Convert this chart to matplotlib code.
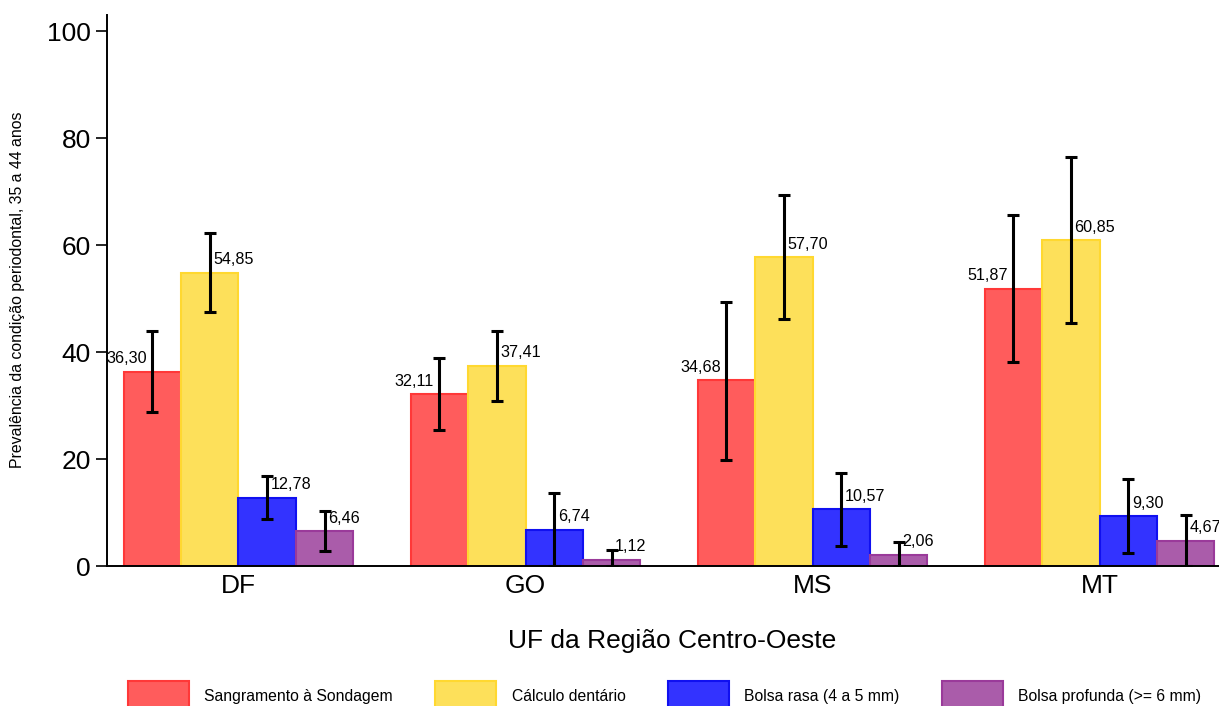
import matplotlib
matplotlib.use("Agg")
import matplotlib.pyplot as plt
import numpy as np
from matplotlib.patches import Patch

plt.rcParams['font.family'] = ['Liberation Sans', 'DejaVu Sans']

categories = ["DF", "GO", "MS", "MT"]
series_names = ["Sangramento à Sondagem", "Cálculo dentário",
                "Bolsa rasa (4 a 5 mm)", "Bolsa profunda (>= 6 mm)"]
sangramento = [36.30, 32.11, 34.68, 51.87]
calculo = [54.85, 37.41, 57.70, 60.85]
bolsa_rasa = [12.78, 6.74, 10.57, 9.30]
bolsa_profunda = [6.46, 1.12, 2.06, 4.67]
# confidence interval bounds (lower, upper)
sangramento_lo = [28.8, 25.5, 19.9, 38.1]
sangramento_hi = [43.9, 38.8, 49.4, 65.6]
calculo_lo = [47.4, 30.9, 46.1, 45.4]
calculo_hi = [62.3, 44.0, 69.3, 76.4]
bolsa_rasa_lo = [8.7, 0.0, 3.8, 2.4]
bolsa_rasa_hi = [16.9, 13.7, 17.4, 16.2]
bolsa_profunda_lo = [2.75, 0.0, 0.0, 0.0]
bolsa_profunda_hi = [10.3, 2.9, 4.4, 9.5]

values = [sangramento, calculo, bolsa_rasa, bolsa_profunda]
lows = [sangramento_lo, calculo_lo, bolsa_rasa_lo, bolsa_profunda_lo]
highs = [sangramento_hi, calculo_hi, bolsa_rasa_hi, bolsa_profunda_hi]
face_colors = ["#FF5C5C", "#FDE05A", "#3333FF", "#AA5CAA"]
edge_colors = ["#FF3838", "#FFD830", "#1010F0", "#9A3A9A"]

fig = plt.figure(figsize=(12.19, 7.06), dpi=100)
ax = fig.add_axes([107 / 1219, 1 - 566 / 706, 1 - 107 / 1219, (566 - 15) / 706])

x = np.arange(len(categories))
width = 0.2
for i, (vals, lo, hi) in enumerate(zip(values, lows, highs)):
    pos = x + (i - 1.5) * width
    ax.bar(pos, vals, width, color=face_colors[i], edgecolor=edge_colors[i],
           linewidth=1.5, label=series_names[i], zorder=2)
    vals_a = np.array(vals)
    yerr = np.vstack([vals_a - np.array(lo), np.array(hi) - vals_a])
    ax.errorbar(pos, vals, yerr=yerr, fmt='none', ecolor='black',
                elinewidth=2.2, capsize=4, capthick=2.2, zorder=3)
    for p, v in zip(pos, vals):
        label = f"{v:.2f}".replace('.', ',')
        if i == 0:
            ax.annotate(label, (p, v), xytext=(-4, 4), textcoords='offset points',
                        ha='right', va='bottom', fontsize=11.6, zorder=4)
        else:
            ax.annotate(label, (p, v), xytext=(2.5, 4), textcoords='offset points',
                        ha='left', va='bottom', fontsize=11.6, zorder=4)

ax.set_xlim(-0.458, 3.416)
ax.set_ylim(0, 103)
ax.set_yticks([0, 20, 40, 60, 80, 100])
ax.set_xticks(x)
ax.set_xticklabels(categories)
ax.tick_params(axis='both', labelsize=19, length=8, width=1.2)
ax.tick_params(axis='x', length=0, pad=6)
for s in ['top', 'right']:
    ax.spines[s].set_visible(False)
for s in ['left', 'bottom']:
    ax.spines[s].set_linewidth(1.4)

ax.set_xlabel("UF da Região Centro-Oeste", fontsize=19)
ax.xaxis.set_label_coords((672 - 107) / (1219 - 107), -(641 - 566) / 551)
ax.xaxis.label.set_va('center')
fig.text(18 / 1219, 1 - 290 / 706, "Prevalência da condição periodontal, 35 a 44 anos",
         rotation=90, ha='center', va='center', fontsize=11.4)

handles = [Patch(facecolor=face_colors[i], edgecolor=edge_colors[i], linewidth=1.5)
           for i in range(4)]
fig.legend(handles, series_names, loc='upper left', bbox_to_anchor=(128 / 1219, 1 - 681 / 706),
           ncol=4, frameon=False, fontsize=11.3, handlelength=3.9, handleheight=2.6,
           handletextpad=0.96, columnspacing=2.7, borderaxespad=0, borderpad=0)

fig.savefig("out.png", dpi=100)
